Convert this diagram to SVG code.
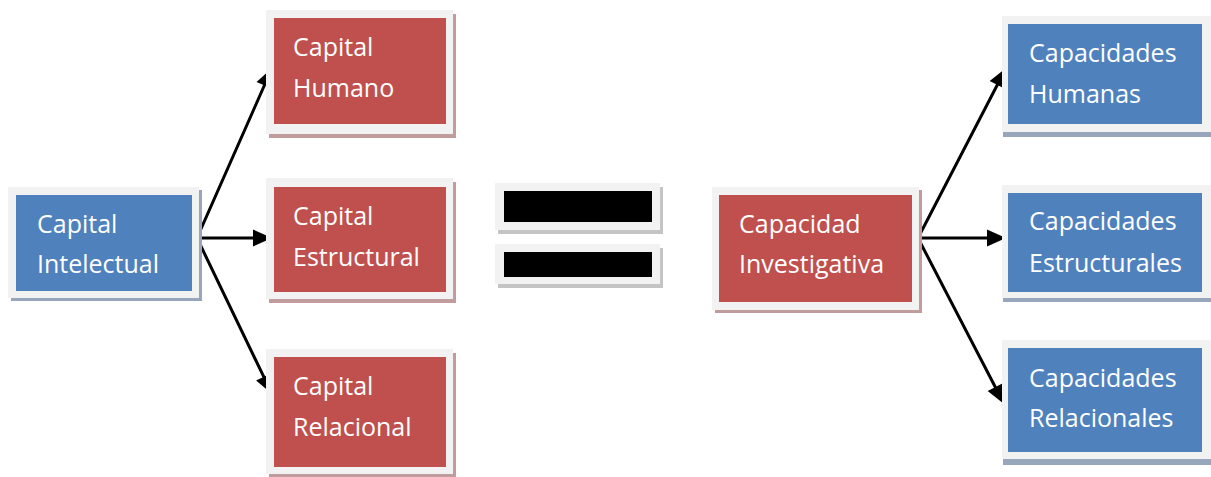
<svg xmlns="http://www.w3.org/2000/svg" width="1211" height="477" viewBox="0 0 1211 477">
<style>
.frame{fill:#f2f2f2}
.shb{fill:#98a6bb}
.shr{fill:#c09c9c}
.shk{fill:#c4c4c4}
.blue{fill:#4f81bd}
.red{fill:#c0504d}
.blk{fill:#000}
.t{font-family:"Open Sans","Liberation Sans",sans-serif;font-size:25px;fill:#ffffff}
.c{stroke:#000;stroke-width:3;fill:none;stroke-linecap:round}
.h{fill:#000}
</style>
<defs>
<path id="head" class="h" d="M0,0 L-19,-8.5 L-19,8.5 z"/>
</defs>
<rect width="1211" height="477" fill="#fff"/>
<g id="connectors">
<polyline class="c" points="267.2,79 197,238 260,238"/>
<polyline class="c" points="197,238 266.8,383.2"/>
<use href="#head" transform="translate(272,68) rotate(-66.2)"/>
<use href="#head" transform="translate(272,238)"/>
<use href="#head" transform="translate(272,394) rotate(64.3)"/>
<polyline class="c" points="1000.5,78.7 918,238 994,238"/>
<polyline class="c" points="918,238 998.5,393.3"/>
<use href="#head" transform="translate(1006,68) rotate(-62.6)"/>
<use href="#head" transform="translate(1006,238)"/>
<use href="#head" transform="translate(1004,404) rotate(62.6)"/>
</g>
<g id="capital-intelectual">
<rect class="shb" x="11" y="190" width="191" height="111"/>
<rect class="frame" x="8" y="187" width="191" height="111"/>
<rect class="blue" x="16" y="195" width="176" height="96"/>
<text class="t" x="37" y="233">Capital</text>
<text class="t" x="37" y="273">Intelectual</text>
</g>
<g id="capital-humano">
<rect class="shr" x="269" y="14" width="187" height="124"/>
<rect class="frame" x="266" y="10" width="187" height="124"/>
<rect class="red" x="274" y="18" width="172" height="106"/>
<text class="t" x="293" y="56">Capital</text>
<text class="t" x="293" y="97">Humano</text>
</g>
<g id="capital-estructural">
<rect class="shr" x="269" y="182" width="187" height="121"/>
<rect class="frame" x="266" y="178" width="187" height="121"/>
<rect class="red" x="274" y="187" width="172" height="105"/>
<text class="t" x="293" y="225">Capital</text>
<text class="t" x="293" y="266">Estructural</text>
</g>
<g id="capital-relacional">
<rect class="shr" x="269" y="353" width="187" height="124"/>
<rect class="frame" x="266" y="349" width="187" height="125"/>
<rect class="red" x="274" y="357" width="172" height="110"/>
<text class="t" x="293" y="395">Capital</text>
<text class="t" x="293" y="436">Relacional</text>
</g>
<g id="equals-top">
<rect class="shk" x="498" y="187" width="165" height="47"/>
<rect class="frame" x="495" y="183" width="165" height="47"/>
<rect class="blk" x="504" y="191" width="148" height="31"/>
</g>
<g id="equals-bottom">
<rect class="shk" x="498" y="248" width="165" height="40"/>
<rect class="frame" x="495" y="244" width="165" height="40"/>
<rect class="blk" x="504" y="252" width="148" height="25"/>
</g>
<g id="capacidad-investigativa">
<rect class="shr" x="715" y="190" width="207" height="123"/>
<rect class="frame" x="712" y="187" width="207" height="123"/>
<rect class="red" x="719" y="195" width="193" height="107"/>
<text class="t" x="739" y="233">Capacidad</text>
<text class="t" x="739" y="273">Investigativa</text>
</g>
<g id="capacidades-humanas">
<rect class="shb" x="1003" y="21" width="210" height="116"/>
<rect class="frame" x="1002" y="16" width="209" height="116"/>
<rect class="blue" x="1008" y="24" width="194" height="100"/>
<text class="t" x="1029" y="62">Capacidades</text>
<text class="t" x="1029" y="103">Humanas</text>
</g>
<g id="capacidades-estructurales">
<rect class="shb" x="1003" y="189" width="210" height="113"/>
<rect class="frame" x="1002" y="185" width="209" height="113"/>
<rect class="blue" x="1008" y="193" width="194" height="99"/>
<text class="t" x="1029" y="230">Capacidades</text>
<text class="t" x="1029" y="272">Estructurales</text>
</g>
<g id="capacidades-relacionales">
<rect class="shb" x="1003" y="345" width="210" height="120"/>
<rect class="frame" x="1002" y="340" width="209" height="119"/>
<rect class="blue" x="1008" y="348" width="194" height="104"/>
<text class="t" x="1029" y="387">Capacidades</text>
<text class="t" x="1029" y="427">Relacionales</text>
</g>
</svg>
